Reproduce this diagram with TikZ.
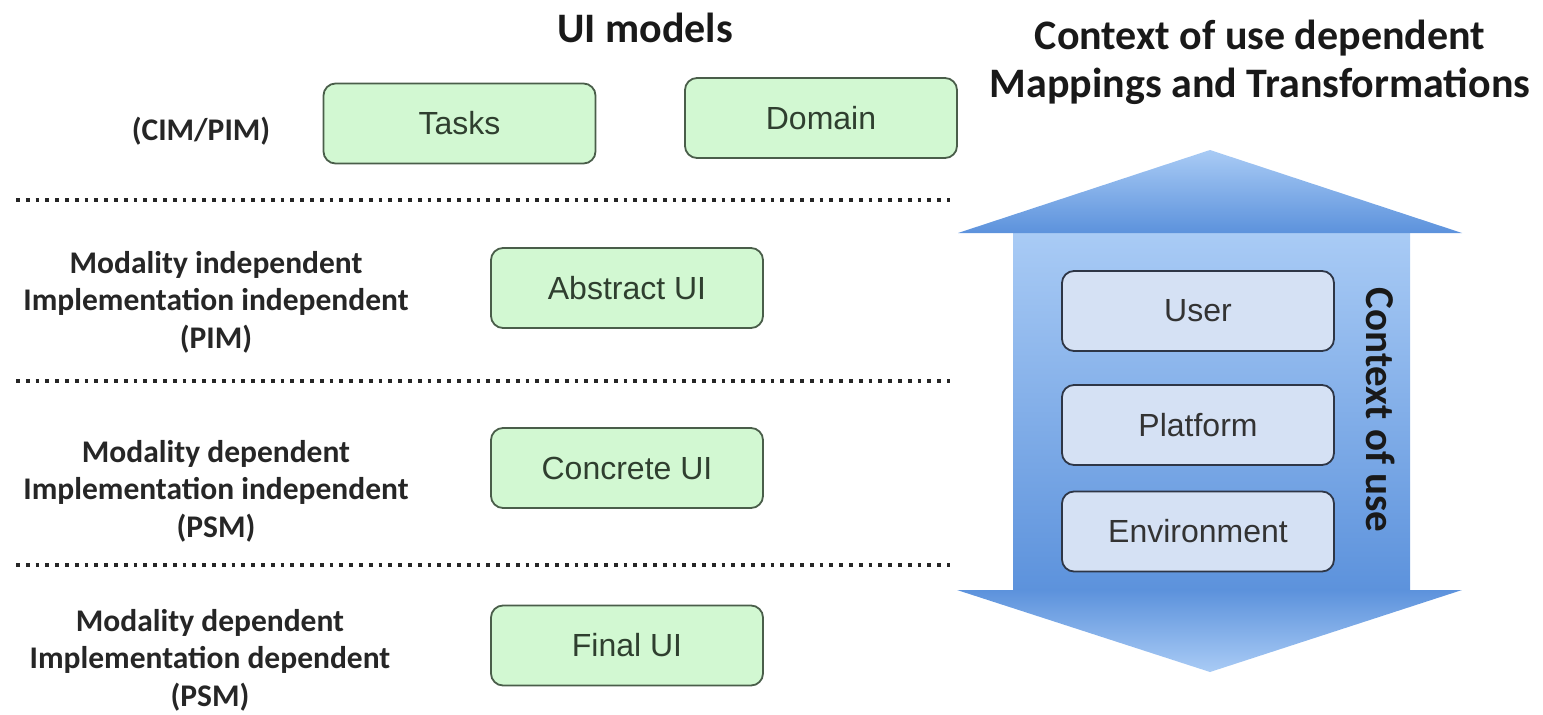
\documentclass[tikz,border=0pt]{standalone}
\usepackage{fontspec}
\setmainfont{Liberation Sans}
\newfontfamily\lblfont{Carlito}
\usetikzlibrary{positioning}

\definecolor{uigreen}{HTML}{D2F8D2}
\definecolor{uiedge}{HTML}{4A5E4A}
\definecolor{uitext}{HTML}{2F3F2F}
\definecolor{ctxfill}{HTML}{D5E1F4}
\definecolor{ctxedge}{HTML}{2E3646}
\definecolor{arrlight}{HTML}{A9CBF5}
\definecolor{arrdark}{HTML}{5C92DC}

\tikzset{
  uibox/.style={draw=uiedge, line width=1.8pt, fill=uigreen, rounded corners=12pt,
    minimum width=272pt, minimum height=80pt, inner sep=0pt, text=uitext,
    font=\fontsize{32}{38}\selectfont},
  ctxbox/.style={uibox, draw=ctxedge, fill=ctxfill, text=black!80},
  levellabel/.style={align=center, text=black!85,
    font=\lblfont\bfseries\fontsize{31.5}{37.5}\selectfont},
  headlabel/.style={align=center, text=black!90,
    font=\lblfont\bfseries\fontsize{42}{48}\selectfont},
  sepline/.style={line width=3.8pt, dash pattern=on 3.8pt off 6pt, black!85}
}

\begin{document}
\begin{tikzpicture}[x=1pt, y=-1pt]

\useasboundingbox (0,0) rectangle (1543,715);

% headings
\node[headlabel] (uimodels) at (645,28) {UI models};
\node[headlabel] (mapping) at (1260,62) {Context of use dependent\\Mappings and Transformations};

% levels
\node[levellabel] (cim) at (201,131) {(CIM/PIM)};
\node[levellabel] (pim) at (216,302) {Modality independent\\Implementation independent\\(PIM)};
\node[levellabel] (psma) at (216,491) {Modality dependent\\Implementation independent\\(PSM)};
\node[levellabel] (psmb) at (210,660) {Modality dependent\\Implementation dependent\\(PSM)};

\foreach \y in {200,381,565}
    \draw[sepline] (16,\y) -- (950,\y);

% UI models
\node[uibox] (tasks) at (459.5,123.5) {Tasks};
\node[uibox] (domain) at (821,118) {Domain};
\node[uibox] (abstract) at (627,288) {Abstract UI};
\node[uibox] (concrete) at (627,468) {Concrete UI};
\node[uibox] (final) at (627,645.5) {Final UI};

% context of use arrow
\shade[top color=arrlight, bottom color=arrdark] (1013,232) rectangle (1410,591);
\shade[top color=arrlight, bottom color=arrdark] (1210,150) -- (1462,233) -- (958,233) -- cycle;
\shade[top color=arrdark, bottom color=arrlight] (957,590) -- (1462,590) -- (1210,672) -- cycle;

\node[ctxbox] (user) at (1198,311) {User};
\node[ctxbox] (platform) at (1198,425) {Platform};
\node[ctxbox] (environment) at (1198,531.5) {Environment};

\node[headlabel, rotate=-90, font=\lblfont\bfseries\fontsize{41}{46}\selectfont] (ctx) at (1381,410) {Context of use};

\end{tikzpicture}
\end{document}
